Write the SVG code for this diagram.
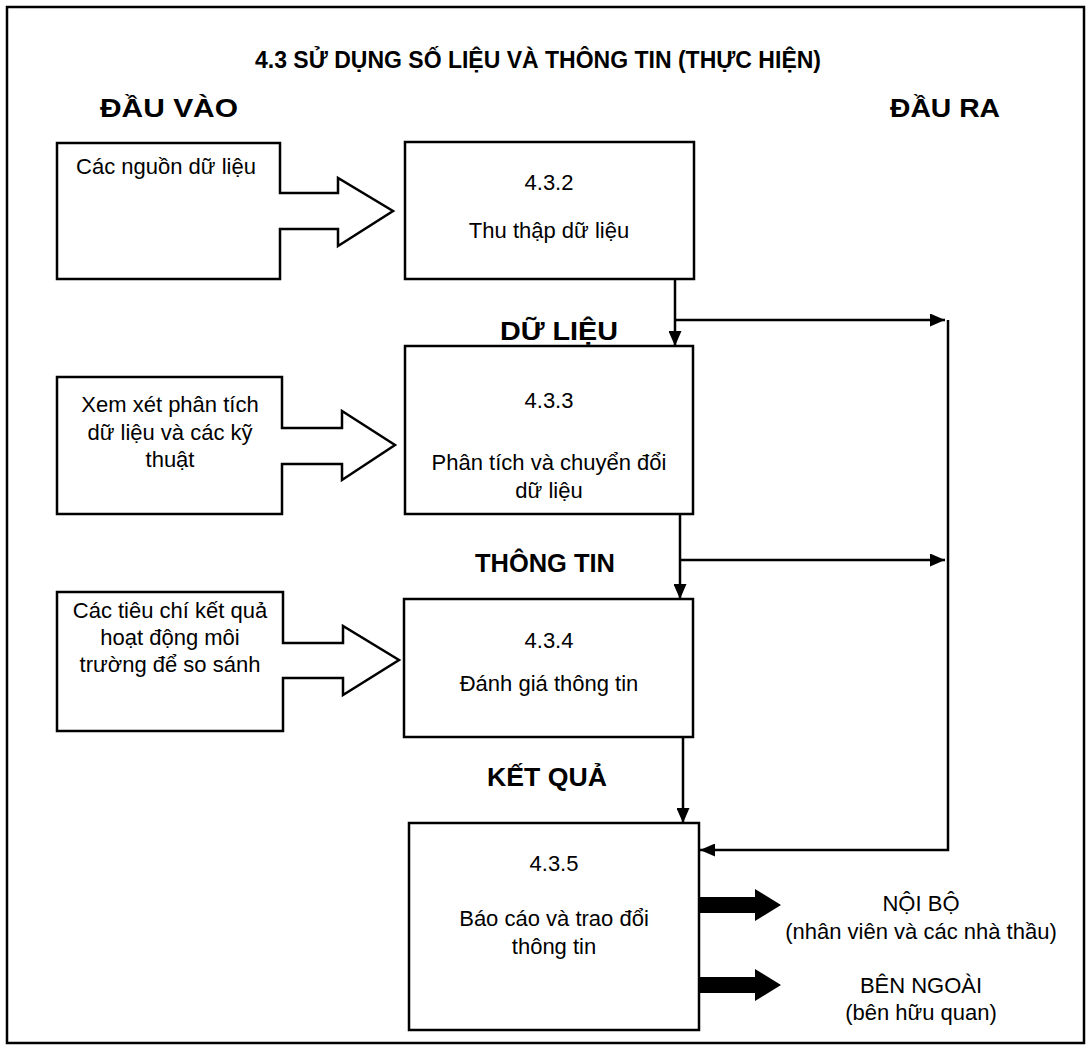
<svg xmlns="http://www.w3.org/2000/svg" width="1091" height="1051" viewBox="0 0 1091 1051">
<defs>
<marker id="ah" viewBox="0 0 15 13" refX="15" refY="6.5" markerWidth="15" markerHeight="13" markerUnits="userSpaceOnUse" orient="auto">
<path d="M0,0 L15,6.5 L0,13 Z" fill="#000"/>
</marker>
<style>
.box{fill:#fff;stroke:#000;stroke-width:2.5}
.t{font-family:"Liberation Sans",Arial,sans-serif;font-size:22px;fill:#000;text-anchor:middle}
.b{font-family:"Liberation Sans",Arial,sans-serif;font-weight:bold;fill:#000;text-anchor:middle}
.ln{fill:none;stroke:#000;stroke-width:2.5}
.thick{fill:#000;stroke:none}
</style>
</defs>
<rect x="0" y="0" width="1091" height="1051" fill="#fff"/>
<rect x="7" y="7" width="1077" height="1036" fill="none" stroke="#000" stroke-width="2.5"/>

<g id="headers">
<text class="b" x="538" y="68" font-size="23" textLength="566" lengthAdjust="spacingAndGlyphs">4.3 SỬ DỤNG SỐ LIỆU VÀ THÔNG TIN (THỰC HIỆN)</text>
<text class="b" x="169" y="117" font-size="26" textLength="138" lengthAdjust="spacingAndGlyphs">ĐẦU VÀO</text>
<text class="b" x="945" y="117" font-size="26" textLength="110" lengthAdjust="spacingAndGlyphs">ĐẦU RA</text>
</g>

<g id="input1">
<path class="box" d="M57,143 H280 V193 H338 V178 L393,211 L338,246 V229 H280 V279 H57 Z"/>
<text class="t" x="166" y="174">Các nguồn dữ liệu</text>
</g>

<g id="input2">
<path class="box" d="M57,377 H282 V428 H342 V411 L395,445 L342,480 V464 H282 V514 H57 Z"/>
<text class="t" x="170" y="412">Xem xét phân tích</text>
<text class="t" x="170" y="440">dữ liệu và các kỹ</text>
<text class="t" x="170" y="467">thuật</text>
</g>

<g id="input3">
<path class="box" d="M57,592 H283 V643 H343 V626 L399,660 L343,695 V678 H283 V731 H57 Z"/>
<text class="t" x="170" y="618">Các tiêu chí kết quả</text>
<text class="t" x="170" y="645">hoạt động môi</text>
<text class="t" x="170" y="672">trường để so sánh</text>
</g>

<g id="n432">
<rect class="box" x="405" y="142" width="289" height="137"/>
<text class="t" x="549" y="190">4.3.2</text>
<text class="t" x="549" y="238">Thu thập dữ liệu</text>
</g>

<g id="n433">
<rect class="box" x="405" y="346" width="288" height="168"/>
<text class="t" x="549" y="408">4.3.3</text>
<text class="t" x="549" y="470">Phân tích và chuyển đổi</text>
<text class="t" x="549" y="498">dữ liệu</text>
</g>

<g id="n434">
<rect class="box" x="404" y="599" width="289" height="138"/>
<text class="t" x="549" y="648">4.3.4</text>
<text class="t" x="549" y="691">Đánh giá thông tin</text>
</g>

<g id="n435">
<rect class="box" x="409" y="823" width="290" height="207"/>
<text class="t" x="554" y="871">4.3.5</text>
<text class="t" x="554" y="926">Báo cáo và trao đổi</text>
<text class="t" x="554" y="954">thông tin</text>
</g>

<g id="labels">
<text class="b" x="559" y="340" font-size="25" textLength="118" lengthAdjust="spacingAndGlyphs">DỮ LIỆU</text>
<text class="b" x="545" y="572" font-size="25" textLength="140" lengthAdjust="spacingAndGlyphs">THÔNG TIN</text>
<text class="b" x="547" y="786" font-size="25" textLength="120" lengthAdjust="spacingAndGlyphs">KẾT QUẢ</text>
</g>

<g id="outputs">
<text class="t" x="921" y="911">NỘI BỘ</text>
<text class="t" x="921" y="939">(nhân viên và các nhà thầu)</text>
<text class="t" x="921" y="993">BÊN NGOÀI</text>
<text class="t" x="921" y="1020">(bên hữu quan)</text>
</g>

<g id="connectors">
<line class="ln" x1="675" y1="279" x2="675" y2="346" marker-end="url(#ah)"/>
<line class="ln" x1="675" y1="320" x2="945" y2="320" marker-end="url(#ah)"/>
<line class="ln" x1="680" y1="514" x2="680" y2="599" marker-end="url(#ah)"/>
<line class="ln" x1="680" y1="560" x2="945" y2="560" marker-end="url(#ah)"/>
<line class="ln" x1="683" y1="737" x2="683" y2="823" marker-end="url(#ah)"/>
<polyline class="ln" points="948,320 948,850 700,850" marker-end="url(#ah)"/>
<path class="thick" d="M700,897 H755 V889 L781,905 L755,921 V913 H700 Z"/>
<path class="thick" d="M700,977 H755 V969 L781,985 L755,1001 V993 H700 Z"/>
</g>
</svg>
